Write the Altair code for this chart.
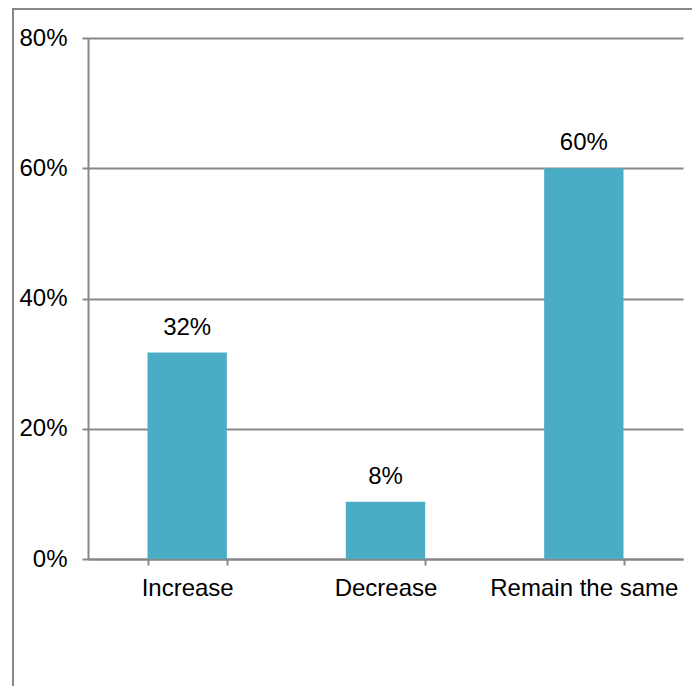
import altair as alt
import pandas as pd

categories = ["Increase", "Decrease", "Remain the same"]
values = [31.7, 8.8, 60.0]
labels = ["32%", "8%", "60%"]
y_ticks = [0, 20, 40, 60, 80]

df = pd.DataFrame({"cat": categories, "val": values, "lab": labels})

GRAY = "#888888"
FONT = "Liberation Sans"
BAR = "#4BACC6"
FS = 24

x_enc = alt.X(
    "cat:N",
    sort=categories,
    title=None,
    scale=alt.Scale(paddingInner=0.6, paddingOuter=0.3),
    axis=alt.Axis(
        labelAngle=0,
        tickBand="extent",
        domainColor=GRAY,
        domainWidth=2,
        tickColor=GRAY,
        tickWidth=2,
        tickSize=6,
        labelFont=FONT,
        labelFontSize=FS,
        labelColor="#000000",
        labelPadding=11,
        labelLimit=400,
        grid=False,
    ),
)
y_enc = alt.Y(
    "val:Q",
    title=None,
    scale=alt.Scale(domain=[0, 80], nice=False),
    axis=alt.Axis(
        values=y_ticks,
        labelExpr="datum.value + '%'",
        domainColor=GRAY,
        domainWidth=2,
        tickColor=GRAY,
        tickWidth=2,
        tickSize=6,
        gridColor=GRAY,
        gridWidth=2,
        labelFont=FONT,
        labelFontSize=FS,
        labelColor="#000000",
        labelPadding=15,
    ),
)

frame = alt.Chart(pd.DataFrame({"a": [0]})).mark_rect(
    fillOpacity=0, stroke=GRAY, strokeWidth=2
).encode(
    x=alt.value(-75), x2=alt.value(760), y=alt.value(-29), y2=alt.value(760)
)

bars = alt.Chart(df).mark_bar(color=BAR).encode(x=x_enc, y=y_enc)

text = alt.Chart(df).mark_text(
    baseline="bottom", dy=-13, font=FONT, fontSize=FS, color="#000000"
).encode(x=alt.X("cat:N", sort=categories), y="val:Q", text="lab:N")

chart = alt.layer(frame, bars, text).properties(
    width=595,
    height=521,
    autosize="none",
    padding={"left": 80, "top": 30, "right": 9, "bottom": 127},
).configure_view(stroke=None)

chart.save("out.html", embed_options={"renderer": "svg", "actions": False})
